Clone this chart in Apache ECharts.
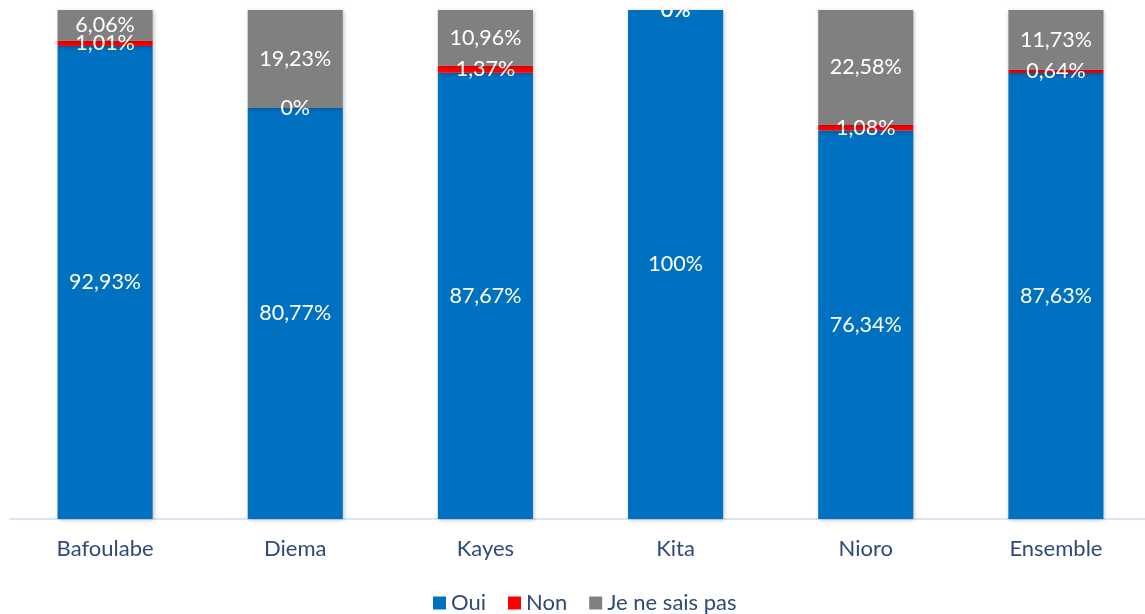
<!DOCTYPE html>
<html>
<head>
<meta charset="utf-8">
<script src="https://cdn.jsdelivr.net/npm/echarts@6/dist/echarts.min.js"></script>
<style>html,body{margin:0;padding:0;background:#fff;overflow:hidden}#c{width:1151px;height:614px}</style>
</head>
<body>
<div id="c"></div>
<script>
const categories = ["Bafoulabe", "Diema", "Kayes", "Kita", "Nioro", "Ensemble"];
const oui = [92.93, 80.77, 87.67, 100, 76.34, 87.63];
const non = [1.01, 0, 1.37, 0, 1.08, 0.64];
const nsp = [6.06, 19.23, 10.96, 0, 22.58, 11.73];
const seriesNames = ["Oui", "Non", "Je ne sais pas"];
const colors = ["#0070C0", "#FF0000", "#808080"];

const fontFam = "Lato, 'Open Sans', sans-serif";
const fmt = p => String(p.value).replace('.', ',') + '%';

function mk(name, data, color) {
  return {
    name: name, type: 'bar', stack: 'total', data: data, barWidth: '50%',
    itemStyle: { color: color, shadowColor: 'rgba(0,0,0,0.25)', shadowBlur: 4, shadowOffsetX: 1, shadowOffsetY: 1 },
    label: { show: true, position: 'inside', color: '#fff', fontSize: 21.5, fontFamily: fontFam, formatter: fmt },
    emphasis: { disabled: true }
  };
}

const chart = echarts.init(document.getElementById('c'), null, { renderer: 'canvas' });
chart.setOption({
  animation: false,
  color: colors,
  grid: { left: 10, top: 10, right: 0, bottom: 95, containLabel: false },
  legend: {
    data: seriesNames, top: 587, left: 428,
    itemWidth: 13, itemHeight: 13, itemGap: 22,
    icon: 'rect',
    textStyle: { color: '#2E4A78', fontSize: 22, fontFamily: fontFam }
  },
  xAxis: {
    type: 'category', data: categories,
    axisLine: { lineStyle: { color: '#D0DDEF', width: 1.5 } },
    axisTick: { show: false },
    axisLabel: { color: '#2E4A78', fontSize: 22, fontFamily: fontFam, margin: 19 }
  },
  yAxis: {
    type: 'value', min: 0, max: 100, show: false,
    splitLine: { show: false }
  },
  series: [mk(seriesNames[0], oui, colors[0]), mk(seriesNames[1], non, colors[1]), mk(seriesNames[2], nsp, colors[2])]
});
</script>
</body>
</html>
